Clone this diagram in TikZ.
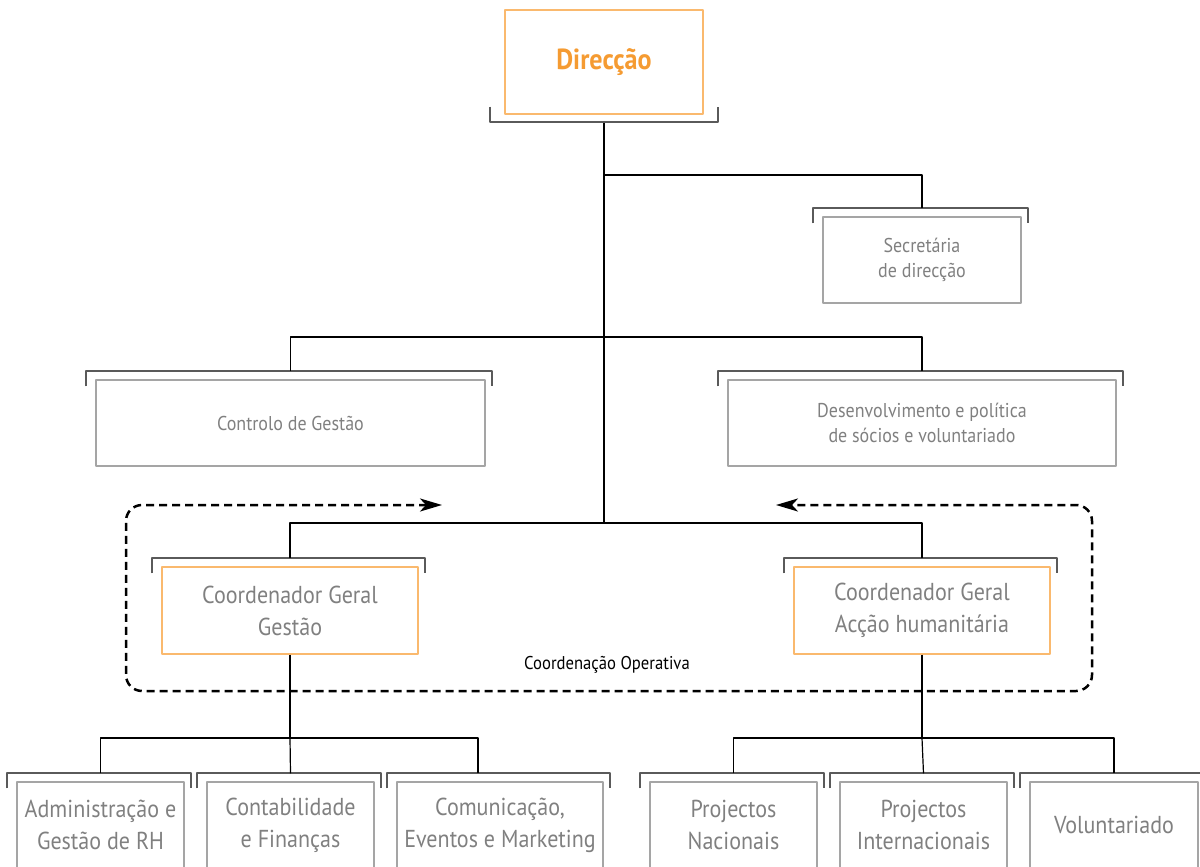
\documentclass[tikz,border=0pt]{standalone}
\usepackage{fontspec}
\setmainfont{PT Sans}[FakeStretch=0.9]
\usetikzlibrary{arrows.meta}
\definecolor{laranja}{RGB}{245,155,50}
\definecolor{laranjaclaro}{RGB}{250,185,110}
\definecolor{cinza}{RGB}{128,128,128}
\definecolor{cinzaclaro}{RGB}{165,165,165}
\definecolor{cinzaescuro}{RGB}{90,90,90}
\begin{document}
\begin{tikzpicture}[x=1bp, y=-1bp, line join=round, >={Stealth[length=22bp, width=13bp, inset=6bp]},
	caixa/.style={draw=cinzaclaro, line width=1.3bp, text=cinza, align=center, inner sep=0pt},
	grande/.style={font=\fontsize{24.5bp}{32bp}\selectfont},
	media/.style={font=\fontsize{20bp}{25bp}\selectfont},
	coord/.style={caixa, grande, draw=laranjaclaro},
	capo/.style={draw=cinzaescuro, line width=1.8bp},
	liga/.style={draw=black, line width=1.2bp}]
	\useasboundingbox (0,0) rectangle (1200,867);
	\clip (0,0) rectangle (1200,867);
	\def\capo#1{\draw[capo] ([xshift=-9bp,yshift=-7bp]#1.north west) -- ++(0,-15) -| ([xshift=6bp,yshift=-7bp]#1.north east);
		\coordinate (#1-b) at ([yshift=8bp]#1.north);}
	% direccao
	\node[caixa, draw=laranjaclaro, text=laranja, font=\fontsize{29bp}{32bp}\selectfont\bfseries, minimum width=198bp, minimum height=104bp] (dir) at (604,62) {Direcção};
	\draw[capo] ([xshift=-14bp,yshift=8bp]dir.south west) -- ++(0,15) -| ([xshift=14bp,yshift=8bp]dir.south east);
	\coordinate (dir-b) at ([yshift=-8bp]dir.south);
	% staff
	\node[caixa, media, minimum width=198bp, minimum height=86bp] (sec) at (922,260) {Secretária\\de direcção};
	\node[caixa, media, minimum width=389bp, minimum height=86bp] (ctl) at (290.5,423) {Controlo de Gestão};
	\node[caixa, media, minimum width=388bp, minimum height=86bp] (dev) at (922,423) {Desenvolvimento e política\\de sócios e voluntariado};
	% coordenadores
	\node[coord, minimum width=256bp, minimum height=87bp] (cg) at (290,610.5) {Coordenador Geral\\Gestão};
	\node[coord, minimum width=256bp, minimum height=87bp] (ca) at (922,610.5) {Coordenador Geral\\Acção humanitária};
	% areas
	\node[caixa, grande, minimum width=167bp, minimum height=86bp] (adm) at (100.5,825) {Administração e\\Gestão de RH};
	\node[caixa, grande, minimum width=167bp, minimum height=86bp] (con) at (290.5,825) {Contabilidade\\e Finanças};
	\node[caixa, grande, minimum width=206bp, minimum height=86bp] (com) at (500,825) {Comunicação,\\Eventos e Marketing};
	\node[caixa, grande, minimum width=167bp, minimum height=86bp] (nac) at (733.5,825) {Projectos\\Nacionais};
	\node[caixa, grande, minimum width=167bp, minimum height=86bp] (int) at (923.5,825) {Projectos\\Internacionais};
	\node[caixa, grande, minimum width=168bp, minimum height=86bp] (vol) at (1114,825) {Voluntariado};
	\capo{sec}\capo{ctl}\capo{dev}\capo{cg}\capo{ca}
	\capo{adm}\capo{con}\capo{com}\capo{nac}\capo{int}\capo{vol}
	% ligacoes
	\coordinate (j1) at (604,175);
	\coordinate (j2) at (604,337);
	\coordinate (j3) at (604,523);
	\coordinate (j4) at (290,738);
	\coordinate (j5) at (922,738);
	\draw[liga] (dir-b) -- (j3);
	\draw[liga] (j1) -| (sec-b);
	\draw[liga] (ctl-b) |- (j2) -| (dev-b);
	\draw[liga] (cg-b) |- (j3) -| (ca-b);
	\draw[liga] (cg) -- (j4);
	\draw[liga] (adm-b) |- (j4) -| ([xshift=-22bp]com-b);
	\draw[liga] (j4) -- (con-b);
	\draw[liga] (ca) -- (j5);
	\draw[liga] (nac-b) |- (j5) -| (vol-b);
	\draw[liga] (j5) -- (int-b);
	% coordenacao operativa
	\draw[<->, line width=2.5bp, dash pattern=on 8bp off 5bp, rounded corners=16bp] (442,505) -- (126,505) -- (126,691) -- (1092,691) -- (1092,505) -- (776,505);
	\node[font=\fontsize{18.5bp}{20bp}\selectfont] (op) at (607,665) {Coordenação Operativa};
\end{tikzpicture}
\end{document}
